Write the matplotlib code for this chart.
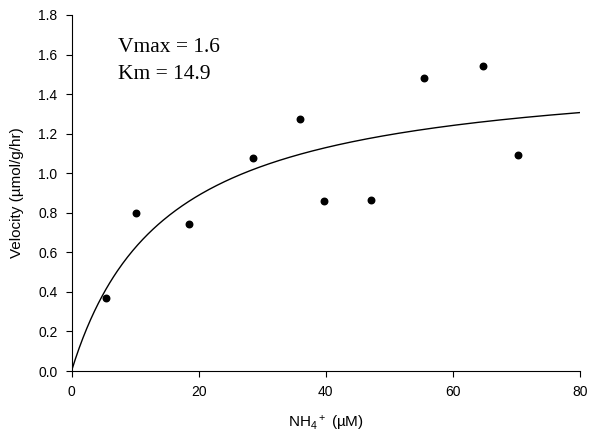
import numpy as np
import matplotlib
matplotlib.use("Agg")
import matplotlib.pyplot as plt

# Data
substrate = [5.5, 10.2, 18.5, 28.6, 36.0, 39.7, 47.1, 55.4, 64.7, 70.2]
velocity = [0.37, 0.797, 0.743, 1.077, 1.274, 0.859, 0.864, 1.483, 1.542, 1.094]

# Fitted Michaelis-Menten curve (label shows rounded values)
vmax_fit = 1.55
km_fit = 14.9
label_lines = ["Vmax = 1.6", "Km = 14.9"]

x_ticks = [0, 20, 40, 60, 80]
y_ticks = [0.0, 0.2, 0.4, 0.6, 0.8, 1.0, 1.2, 1.4, 1.6, 1.8]

plt.rcParams['font.family'] = ['Liberation Sans', 'DejaVu Sans']
plt.rcParams['mathtext.fontset'] = 'custom'
plt.rcParams['mathtext.rm'] = 'Liberation Sans'
plt.rcParams['mathtext.it'] = 'Liberation Sans'
plt.rcParams['mathtext.default'] = 'regular'

fig = plt.figure(figsize=(5.89, 4.37), dpi=100)
ax = fig.add_axes([0.1214, 0.151, 0.8633, 0.8147])

xs = np.linspace(0, 80, 400)
ax.plot(xs, vmax_fit * xs / (km_fit + xs), color='black', lw=1.0)
ax.scatter(substrate, velocity, s=22, color='black', zorder=3, clip_on=False)

ax.set_xlim(0, 80)
ax.set_ylim(0, 1.8)
ax.set_xticks(x_ticks)
ax.set_yticks(y_ticks)
ax.set_yticklabels([f"{v:.1f}" for v in y_ticks])
ax.tick_params(direction='out', length=4, width=0.8, labelsize=10, pad=6)

for s in ['top', 'right']:
    ax.spines[s].set_visible(False)
for s in ['left', 'bottom']:
    ax.spines[s].set_linewidth(0.8)

ax.set_xlabel(r"NH$_4$$^+$ (µM)", fontsize=11, labelpad=11)
ax.set_ylabel("Velocity (µmol/g/hr)", fontsize=11, labelpad=10)

ax.text(0.091, 0.935, "\n".join(label_lines), transform=ax.transAxes,
        family=['Liberation Serif', 'DejaVu Serif'], fontsize=15.5,
        va='top', ha='left', linespacing=1.55)

fig.savefig("out.png", dpi=100)
